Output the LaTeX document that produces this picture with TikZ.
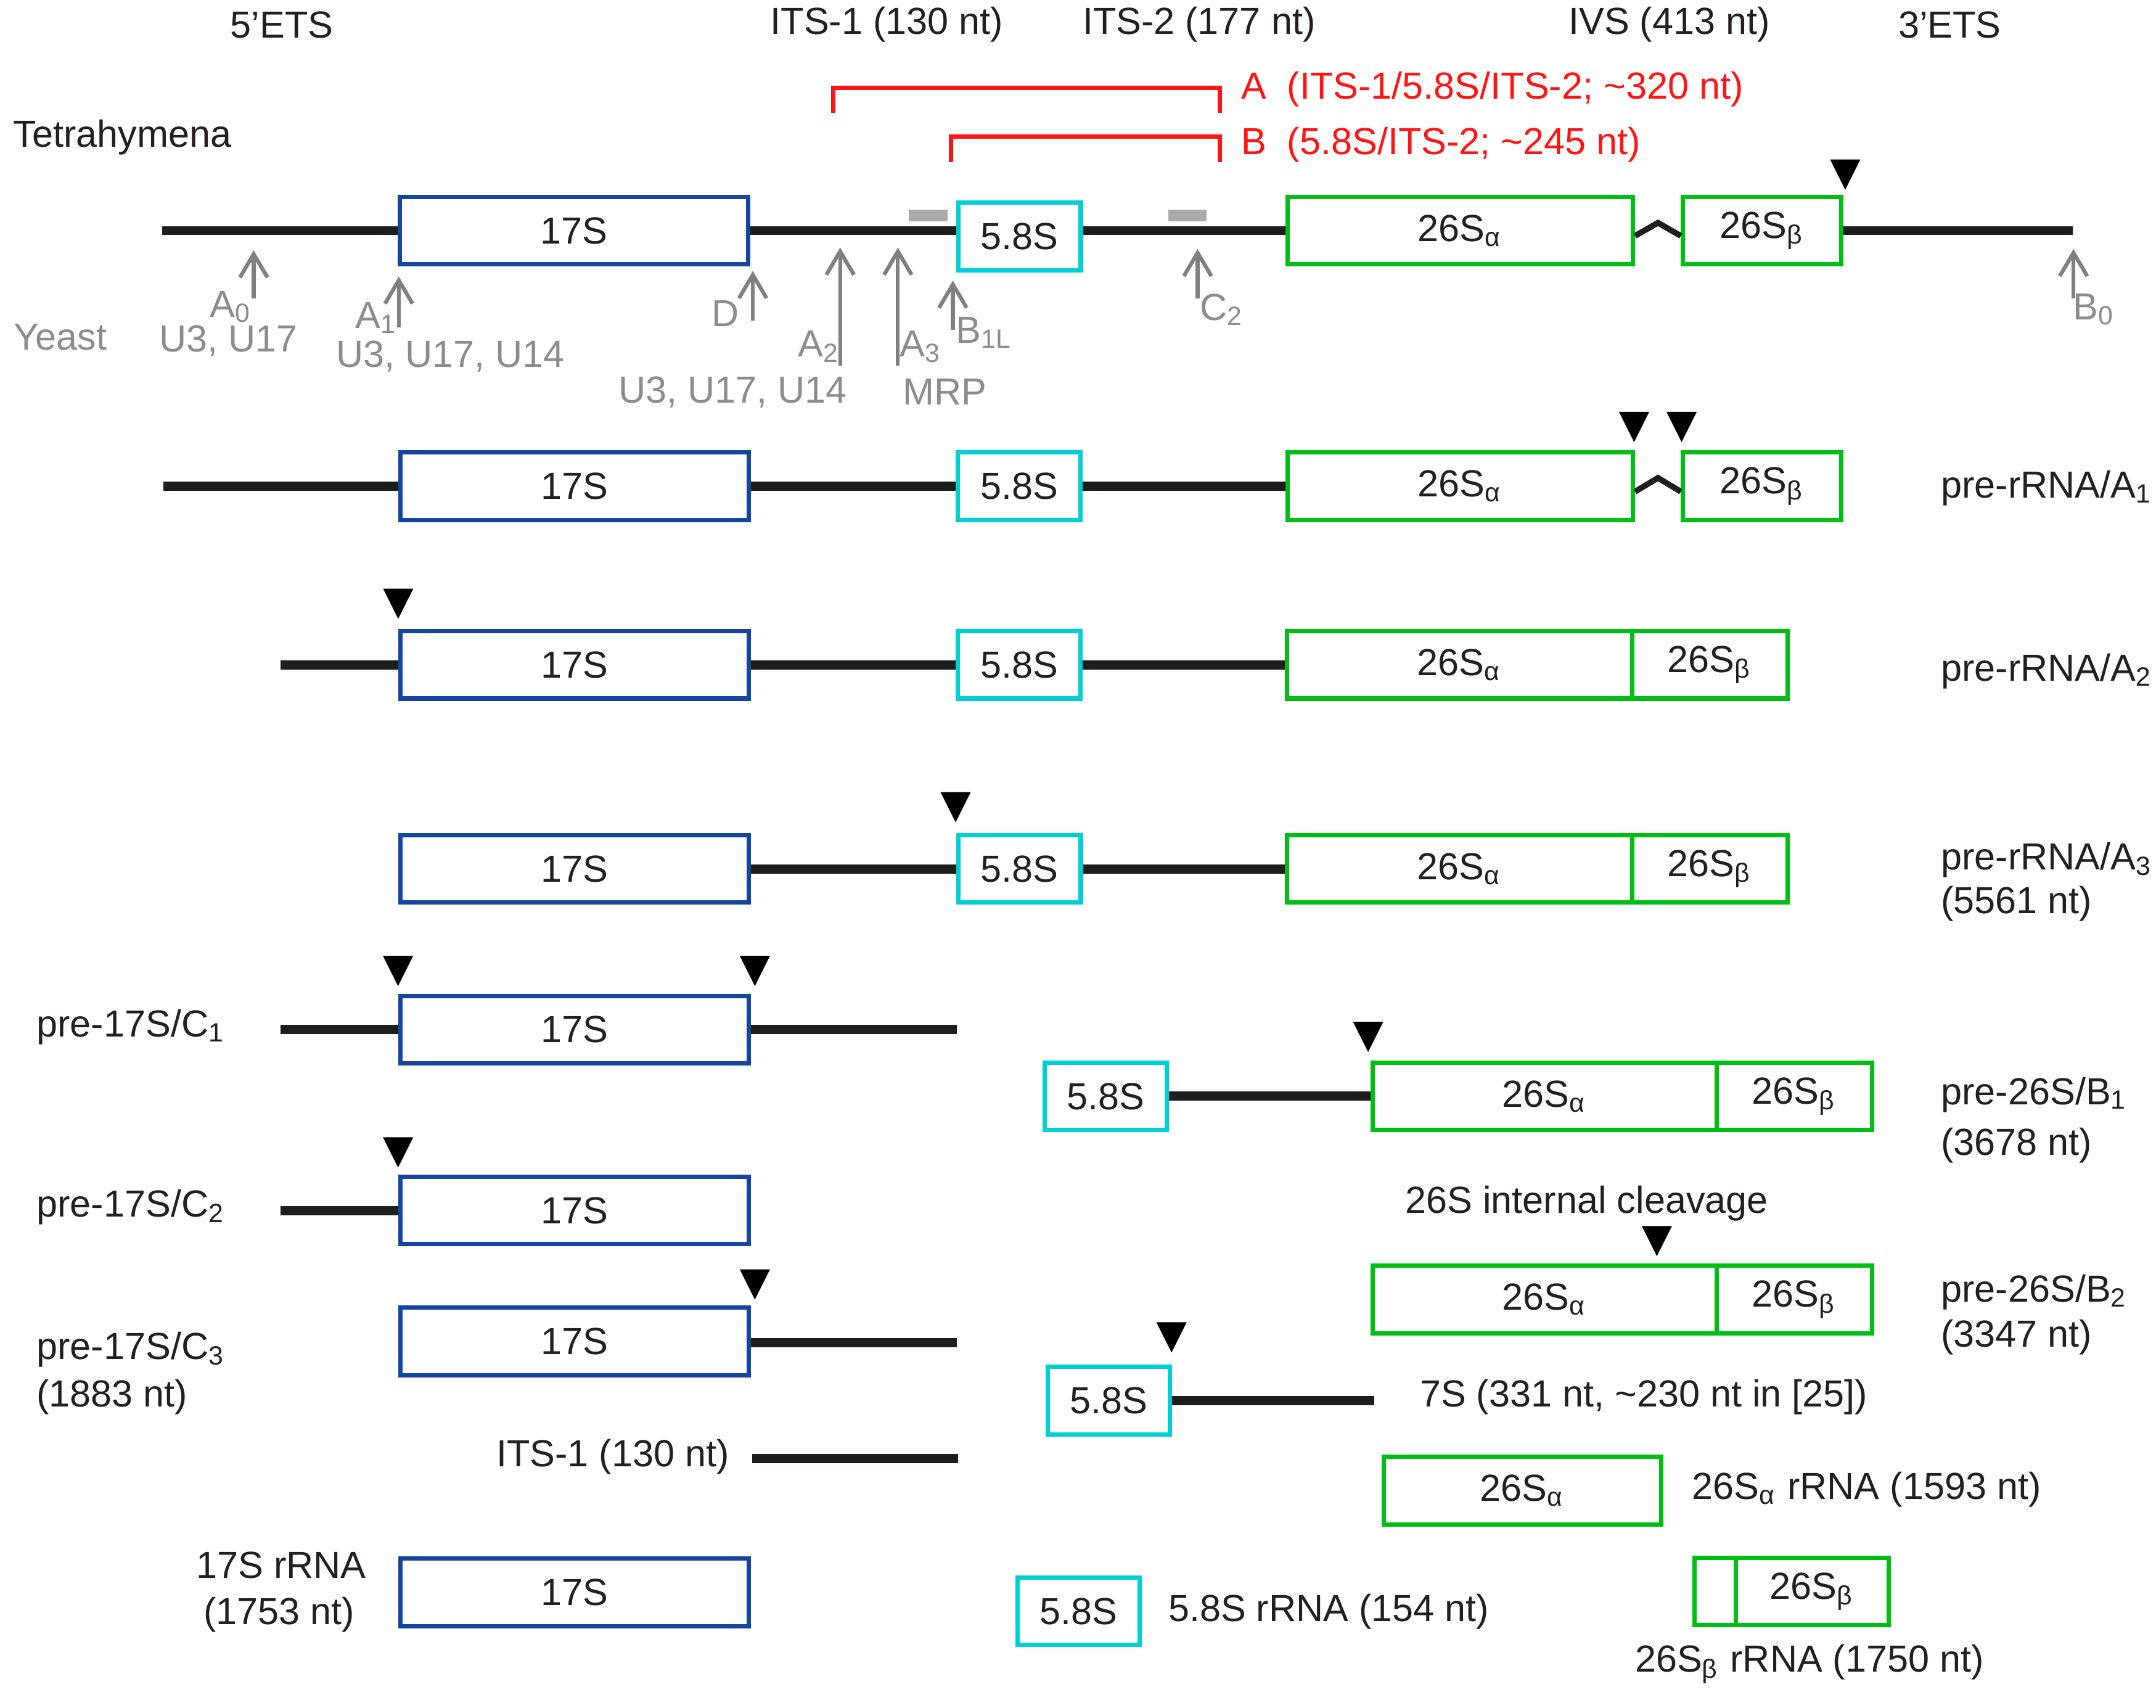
\documentclass[tikz,border=0pt]{standalone}
\usepackage{fontspec}
\setmainfont{Liberation Sans}
\usetikzlibrary{positioning,arrows.meta}
\begin{document}
\begin{tikzpicture}[x={(0.01cm,0cm)},y={(0cm,-0.01cm)},
  every node/.style={font=\fontsize{7.8}{9.4}\selectfont, inner sep=0pt, text={rgb,255:red,35;green,31;blue,32}},
  rna/.style={draw={rgb,255:red,30;green,28;blue,28}, line width=1.9pt},
  ivs/.style={draw={rgb,255:red,30;green,28;blue,28}, line width=1.2pt},
  rbox/.style={draw, fill=white, line width=0.9pt, minimum height=0.49cm},
  s17/.style={rbox, draw={rgb,255:red,20;green,70;blue,160}, minimum width=2.53cm},
  s58/.style={rbox, draw={rgb,255:red,0;green,208;blue,212}, minimum width=0.89cm},
  s26a/.style={rbox, draw={rgb,255:red,0;green,190;blue,20}, minimum width=2.51cm},
  s26b/.style={rbox, draw={rgb,255:red,0;green,190;blue,20}, minimum width=1.13cm},
  site/.style={draw={rgb,255:red,128;green,128;blue,128}, line width=0.8pt, {Straight Barb[length=1.7mm,width=2mm]}-},
  ytext/.style={text={rgb,255:red,140;green,140;blue,140}},
  probe/.style={draw={rgb,255:red,255;green,20;blue,20}, line width=0.9pt},
  ptext/.style={text={rgb,255:red,255;green,20;blue,20}},
  bar/.style={fill={rgb,255:red,170;green,170;blue,170}, minimum width=0.28cm, minimum height=0.085cm},
  cleave/.pic={\fill[black] (-11,-11) -- (11,-11) -- (0,11) -- cycle;}]
\useasboundingbox (0,0) rectangle (1568,1242);
\node (h5ets) at (205,18) {5'ETS};
\node (hits1) at (645,18) {ITS-1 (130 nt)};
\node (hits2) at (872,18) {ITS-2 (177 nt)};
\node (hivs) at (1214,18) {IVS (413 nt)};
\node (h3ets) at (1418,18) {3'ETS};
\coordinate (pa1) at (606,82);
\coordinate (pa2) at (887,82);
\coordinate (pb1) at (691.5,118);
\coordinate (pb2) at (887,118);
\draw[probe] (pa1) -- ++(0,-18) -| (pa2);
\draw[probe] (pb1) -- ++(0,-18.5) -| (pb2);
\node[ptext,anchor=west] (proba) at (902,65) {A\ \ (ITS-1/5.8S/ITS-2; \textasciitilde320 nt)};
\node[ptext,anchor=west] (probb) at (902,105) {B\ \ (5.8S/ITS-2; \textasciitilde245 nt)};
\node[anchor=west] (tetra) at (9,100) {Tetrahymena};
\node[ytext] (yeast) at (44,245) {Yeast};
\coordinate (tl) at (118,167.7);
\node[s17] (t17) at (417.5,167.7) {17S};
\node[s58] (t58) at (741.5,172) {5.8S};
\node[s26a] (t26a) at (1062,167.7) {26S\textsubscript{α}};
\node[s26b,minimum width=1.15cm] (t26b) at (1281.5,167.7) {26S\textsubscript{β}};
\coordinate (tr) at (1507.5,167.7);
\draw[rna] (tl) -- (t17);
\draw[rna] (t17) -- (t17.east -| t58.west);
\draw[rna] (t17.east -| t58.east) -- (t26a);
\draw[rna] (t26b) -- (tr);
\draw[ivs] (t26a.east |- 0,171.5) -- (1205.8,162) -- (t26b.west |- 0,171.5);
\node[bar] (g1) at (675,156.5) {};
\node[bar] (g2) at (863.5,156.5) {};
\pic at (1342,127) {cleave};
\coordinate (sa0) at (184.5,182);
\coordinate (sa1) at (290,201);
\coordinate (sd) at (547.5,197);
\coordinate (sa2) at (611,180);
\coordinate (sa3) at (653,180);
\coordinate (sb1) at (693,204);
\coordinate (sc2) at (871,181);
\coordinate (sb0) at (1508,181);
\draw[site] (sa0) -- ++(0,35);
\draw[site] (sa1) -- ++(0,37);
\draw[site] (sd) -- ++(0,36);
\draw[site] (sa2) -- ++(0,86);
\draw[site] (sa3) -- ++(0,86);
\draw[site] (sb1) -- ++(0,36);
\draw[site] (sc2) -- ++(0,36);
\draw[site] (sb0) -- ++(0,36);
\node[ytext] (la0) at (168,223) {A\textsubscript{0}};
\node[ytext] (ua0) at (166,248) {U3, U17};
\node[ytext] (la1) at (274,231) {A\textsubscript{1}};
\node[ytext] (ua1) at (327.5,259) {U3, U17, U14};
\node[ytext] (ld) at (527.5,228) {D};
\node[ytext] (la2) at (596,252) {A\textsubscript{2}};
\node[ytext] (la3) at (670,252) {A\textsubscript{3}};
\node[ytext] (lb1) at (716,242) {B\textsubscript{1L}};
\node[ytext] (ua2) at (533,285) {U3, U17, U14};
\node[ytext] (ua3) at (687,285) {MRP};
\node[ytext] (lc2) at (889,225) {C\textsubscript{2}};
\node[ytext] (lb0) at (1523,225) {B\textsubscript{0}};
\coordinate (al) at (119,353.5);
\node[s17] (a17) at (417.8,353.5) {17S};
\node[s58] (a58) at (741.3,353.5) {5.8S};
\node[s26a] (a26a) at (1062,353.5) {26S\textsubscript{α}};
\node[s26b,minimum width=1.15cm] (a26b) at (1281.5,353.5) {26S\textsubscript{β}};
\draw[rna] (al) -- (a17);
\draw[rna] (a17) -- (a58);
\draw[rna] (a58) -- (a26a);
\draw[ivs] (a26a.east |- 0,357.5) -- (1205.8,347.5) -- (a26b.west |- 0,357.5);
\pic at (1188.4,310.5) {cleave};
\pic at (1223,310.5) {cleave};
\node[anchor=west] (a1lab) at (1411,355) {pre-rRNA/A\textsubscript{1}};
\coordinate (bl) at (204,483.5);
\node[s17] (b17) at (417.8,483.5) {17S};
\node[s58] (b58) at (741.3,483.5) {5.8S};
\node[s26a] (b26a) at (1061.5,483.5) {26S\textsubscript{α}};
\node[s26b,right=-0.9pt of b26a] (b26b) {26S\textsubscript{β}};
\draw[rna] (bl) -- (b17);
\draw[rna] (b17) -- (b58);
\draw[rna] (b58) -- (b26a);
\pic at (289.6,439) {cleave};
\node[anchor=west] (a2lab) at (1411,488) {pre-rRNA/A\textsubscript{2}};
\node[s17] (c17) at (417.8,631.8) {17S};
\node[s58] (c58) at (741.5,631.8) {5.8S};
\node[s26a] (c26a) at (1061.5,631.8) {26S\textsubscript{α}};
\node[s26b,right=-0.9pt of c26a] (c26b) {26S\textsubscript{β}};
\draw[rna] (c17) -- (c58);
\draw[rna] (c58) -- (c26a);
\pic at (695,587) {cleave};
\node[anchor=west] (a3lab) at (1411,625.5) {pre-rRNA/A\textsubscript{3}};
\node[anchor=west] (a3len) at (1411,657) {(5561 nt)};
\coordinate (d1l) at (204,748.7);
\node[s17] (d17) at (417.8,748.7) {17S};
\coordinate (d1r) at (696,748.7);
\draw[rna] (d1l) -- (d17);
\draw[rna] (d17) -- (d1r);
\pic at (289.5,706) {cleave};
\pic at (549,706) {cleave};
\node[anchor=west] (c1lab) at (26,747) {pre-17S/C\textsubscript{1}};
\coordinate (d2l) at (204,880.3);
\node[s17] (e17) at (417.8,880.3) {17S};
\draw[rna] (d2l) -- (e17);
\pic at (289.5,838) {cleave};
\node[anchor=west] (c2lab) at (26,878) {pre-17S/C\textsubscript{2}};
\node[s17] (f17) at (417.8,975.5) {17S};
\coordinate (d3r) at (696,976.5);
\draw[rna] (f17.east |- d3r) -- (d3r);
\pic at (549,934) {cleave};
\node[anchor=west] (c3lab) at (26,981.5) {pre-17S/C\textsubscript{3}};
\node[anchor=west] (c3len) at (26,1016) {(1883 nt)};
\node[anchor=east] (its1lab) at (531,1059.6) {ITS-1 (130 nt)};
\coordinate (its1a) at (547,1060.7);
\coordinate (its1b) at (697,1060.7);
\draw[rna] (its1a) -- (its1b);
\node[s17] (g17) at (417.8,1158) {17S};
\node (r17lab) at (204.5,1138) {17S rRNA};
\node (r17len) at (203,1174) {(1753 nt)};
\node[s58] (h58) at (804.2,797.2) {5.8S};
\node[s26a,minimum width=2.5cm] (h26a) at (1123.3,797.2) {26S\textsubscript{α}};
\node[s26b,right=-0.9pt of h26a] (h26b) {26S\textsubscript{β}};
\draw[rna] (h58) -- (h26a);
\pic at (995,754) {cleave};
\node[anchor=west] (b1lab) at (1411,796) {pre-26S/B\textsubscript{1}};
\node[anchor=west] (b1len) at (1411,833) {(3678 nt)};
\node (icut) at (1154,875) {26S internal cleavage};
\pic at (1205,902.5) {cleave};
\node[s26a,minimum width=2.5cm] (i26a) at (1123.3,945) {26S\textsubscript{α}};
\node[s26b,right=-0.9pt of i26a] (i26b) {26S\textsubscript{β}};
\node[anchor=west] (b2lab) at (1411,939.5) {pre-26S/B\textsubscript{2}};
\node[anchor=west] (b2len) at (1411,972.6) {(3347 nt)};
\pic at (852,972.5) {cleave};
\node[s58] (j58) at (806.4,1018.5) {5.8S};
\coordinate (j7s) at (999.5,1018.5);
\draw[rna] (j58) -- (j7s);
\node[anchor=west] (j7lab) at (1032,1016) {7S (331 nt, \textasciitilde230 nt in [25])};
\node[s26a,minimum width=2.015cm] (k26a) at (1107.2,1083.9) {26S\textsubscript{α}};
\node[anchor=west] (k26lab) at (1230,1083) {26S\textsubscript{α} rRNA (1593 nt)};
\node[s26b,minimum width=0.3cm] (m26x) at (1247.5,1157.3) {};
\node[s26b,minimum width=1.11cm,right=-0.9pt of m26x] (m26b) {26S\textsubscript{β}};
\node (m26lab) at (1316,1210) {26S\textsubscript{β} rRNA (1750 nt)};
\node[s58] (n58) at (784.4,1171.7) {5.8S};
\node[anchor=west] (n58lab) at (849,1171.7) {5.8S rRNA (154 nt)};
\end{tikzpicture}
\end{document}
